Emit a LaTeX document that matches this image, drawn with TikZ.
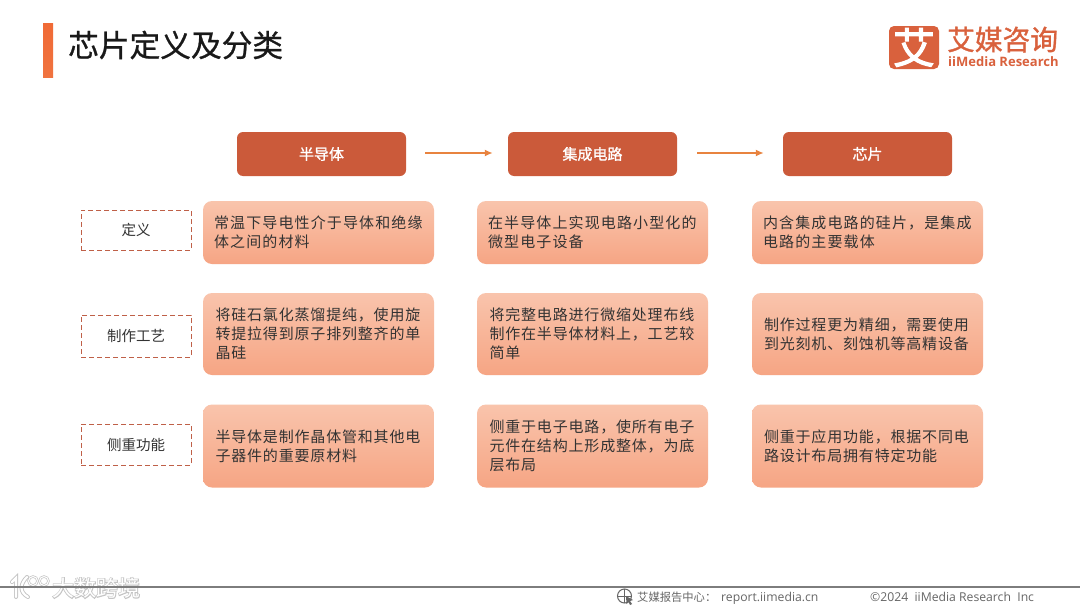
\documentclass[tikz,border=0pt]{standalone}
\usepackage{fontspec}
\setmainfont{Noto Sans CJK SC}
\newfontfamily\cjkbody[LetterSpace=7.5]{Noto Sans CJK SC}
\newfontfamily\cjktight[LetterSpace=5.5]{Noto Sans CJK SC}
\newfontfamily\cjkfat[FakeBold=1.2]{Noto Sans CJK SC}
\newfontfamily\cjklogo[FakeBold=2.5]{Noto Sans CJK SC}
\newfontfamily\cjkhead[FakeBold=0.8]{Noto Sans CJK SC}
\newfontfamily\cjkhalo[FakeBold=7]{Noto Sans CJK SC}
\newfontfamily\latinf{Open Sans}
\definecolor{headred}{HTML}{CB5A3A}
\definecolor{arroworange}{HTML}{E8833F}
\definecolor{bartop}{HTML}{F06A36}
\definecolor{barbot}{HTML}{F0733F}
\definecolor{boxtop}{HTML}{F9C4AC}
\definecolor{boxbot}{HTML}{F6A584}
\definecolor{dashred}{HTML}{BF6048}
\definecolor{inktext}{HTML}{333333}
\definecolor{logored}{HTML}{D9613D}
\definecolor{footgrey}{HTML}{666666}
\definecolor{halo}{HTML}{C4C4C4}
\usetikzlibrary{arrows.meta}
\tikzset{
 x=1pt,y=-1pt,
 headbox/.style={draw=none,fill=headred,rounded corners=6pt,minimum width=169pt,minimum height=44pt,inner sep=0pt,text=white,font=\cjkfat\fontsize{15}{18}\selectfont},
 bodybox/.style={draw=none,top color=boxtop,bottom color=boxbot,rounded corners=9pt,minimum width=231pt,text width=209pt,inner xsep=11pt,inner ysep=0pt,align=left,text=inktext,font=\cjkbody\fontsize{15}{19}\selectfont},
 tightbox/.style={bodybox,text width=206pt,inner xsep=12.5pt,font=\cjktight\fontsize{15}{19}\selectfont},
 sidebox/.style={tightbox,text width=207pt,inner xsep=12pt},
 dashbox/.style={draw=dashred,line width=0.9pt,dash pattern=on 5pt off 3pt,minimum width=110pt,inner sep=0pt,text=inktext,font=\fontsize{14.5}{18}\selectfont},
 flow/.style={draw=arroworange,line width=1.6pt,-{Latex[length=8pt,width=7pt]}},
 foot/.style={inner sep=0pt,anchor=base west,text=footgrey,font=\fontsize{11.3}{13}\selectfont},
 footlat/.style={foot,font=\latinf\fontsize{12.2}{14}\selectfont},
 marktext/.style={inner sep=0pt,anchor=west},
}
\begin{document}
\begin{tikzpicture}
\useasboundingbox (0,0) rectangle (1080,608);
\fill[white] (0,0) rectangle (1080,608);
% title bar
\path[top color=bartop,bottom color=barbot] (43,23) rectangle (53,77);
\node[inner sep=0pt,anchor=west,text=black!90,font=\cjkhead\fontsize{30.7}{34}\selectfont] (title) at (68,45) {芯片定义及分类};
% logo
\node[fill=logored,rounded corners=5pt,minimum width=50pt,minimum height=43pt,inner sep=0pt,text=white,font=\cjklogo\fontsize{42}{44}\selectfont] (logobox) at (914,47.5) {艾};
\node[inner sep=0pt,anchor=base west,text=logored,font=\cjkfat\fontsize{27.7}{28}\selectfont] (logocn) at (947,50) {艾媒咨询};
\node[inner sep=0pt,anchor=base west,text=logored,font=\latinf\bfseries\fontsize{13}{15}\selectfont] (logoen) at (948,66) {iiMedia Research};
% headers
\node[headbox] (h1) at (321.5,154) {\raisebox{1pt}{半导体}};
\node[headbox] (h2) at (592.5,154) {\raisebox{1pt}{集成电路}};
\node[headbox] (h3) at (867.5,154) {\raisebox{1pt}{芯片}};
\draw[flow] ([xshift=19pt,yshift=1pt]h1.east) -- ([xshift=-15pt,yshift=1pt]h2.west);
\draw[flow] ([xshift=20pt,yshift=1pt]h2.east) -- ([xshift=-19pt,yshift=1pt]h3.west);
% row labels
\node[dashbox,minimum height=40pt] (r1) at (136,230) {\raisebox{1pt}{定义}};
\node[dashbox,minimum height=42pt] (r2) at (136,336) {\raisebox{1pt}{制作工艺}};
\node[dashbox,minimum height=41pt] (r3) at (136,444.5) {\raisebox{1pt}{侧重功能}};
% row 1
\node[bodybox,minimum height=63pt] (a1) at (318.5,232.5) {常温下导电性介于导体和绝缘\\体之间的材料};
\node[bodybox,minimum height=63pt] (b1) at (592.5,232.5) {在半导体上实现电路小型化的\\微型电子设备};
\node[bodybox,minimum height=63pt] (c1) at (867.5,232.5) {内含集成电路的硅片，是集成\\电路的主要载体};
% row 2
\node[tightbox,minimum height=82pt] (a2) at (318.5,334) {将硅石氯化蒸馏提纯，使用旋\\转提拉得到原子排列整齐的单\\晶硅};
\node[tightbox,minimum height=82pt] (b2) at (592.5,334) {将完整电路进行微缩处理布线\\制作在半导体材料上，工艺较\\简单};
\node[sidebox,minimum height=82pt] (c2) at (867.5,334) {制作过程更为精细，需要使用\\到光刻机、刻蚀机等高精设备};
% row 3
\node[tightbox,minimum height=83pt] (a3) at (318.5,446) {半导体是制作晶体管和其他电\\子器件的重要原材料};
\node[tightbox,minimum height=83pt] (b3) at (592.5,446) {侧重于电子电路，使所有电子\\元件在结构上形成整体，为底\\层布局};
\node[sidebox,minimum height=83pt] (c3) at (867.5,446) {侧重于应用功能，根据不同电\\路设计布局拥有特定功能};
% watermark
\node[marktext,text=halo,font=\cjkhalo\fontsize{22}{24}\selectfont] (markhalo) at (52,588) {大数跨境};
\node[marktext,text=white,font=\fontsize{22}{24}\selectfont] (marktop) at (52,588) {大数跨境};
\foreach \cx/\cy in {33/581,44/581}{\draw[halo,line width=2.4pt] (\cx,\cy) circle (4.5pt);\draw[white,line width=1pt] (\cx,\cy) circle (4.5pt);}
\draw[halo,line width=4pt,line cap=round] (12,582) -- (16,578) -- (16,597) (27,577) .. controls (20,584) and (19,592) .. (28,597);
\draw[white,line width=2.2pt,line cap=round] (12,582) -- (16,578) -- (16,597) (27,577) .. controls (20,584) and (19,592) .. (28,597);
% footer
\draw[draw=footgrey!85,line width=1.2pt] (0,587) -- (1080,587);
\draw[footgrey,line width=1pt] (624.5,596) circle (7pt);
\draw[footgrey,line width=0.8pt] (617.5,596) -- (631.5,596) (624.5,589) -- (624.5,603);
\fill[footgrey] (626,596) -- (633,600) -- (630,601) -- (632,604) -- (630,605) -- (628.5,602) -- (626.5,604) -- cycle;
\node[foot] (f1) at (637,601) {艾媒报告中心：};
\node[footlat] (f2) at (721,601) {report.iimedia.cn};
\node[footlat] (f3) at (870,601) {©2024\ \ iiMedia Research\ \ Inc};
\end{tikzpicture}
\end{document}
